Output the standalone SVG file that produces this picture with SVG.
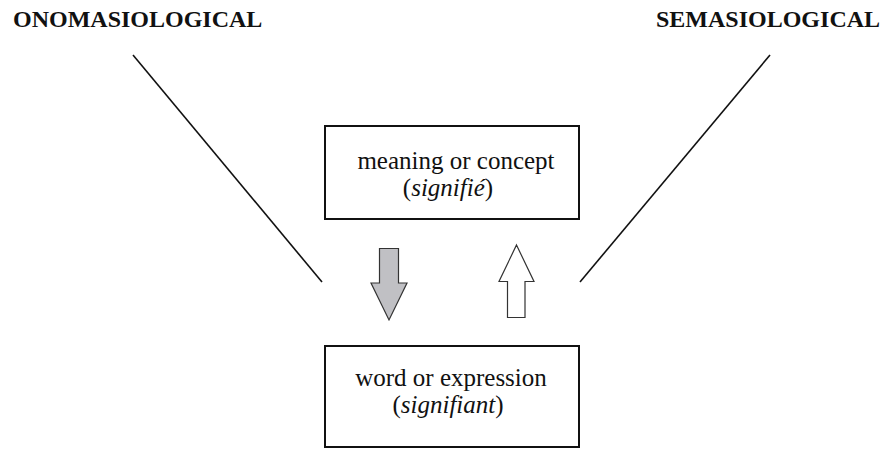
<svg xmlns="http://www.w3.org/2000/svg" width="884" height="449" viewBox="0 0 884 449">
<style>
.box{fill:#fff;stroke:#111;stroke-width:2}
.ln{stroke:#111;stroke-width:1.6;fill:none}
.arr{stroke:#333;stroke-width:1.2;stroke-linejoin:miter}
</style>
<rect width="884" height="449" fill="#fff"/>
<g id="onomasiological">
<text x="13" y="27" font-family="Liberation Serif" font-weight="bold" font-size="24" fill="#111">ONOMASIOLOGICAL</text>
</g>
<g id="semasiological">
<text x="656" y="27" font-family="Liberation Serif" font-weight="bold" font-size="24" fill="#111">SEMASIOLOGICAL</text>
</g>
<g id="connectors">
<line class="ln" x1="133" y1="55" x2="322" y2="282"/>
<line class="ln" x1="770" y1="55" x2="580" y2="282"/>
<polygon id="down-arrow" class="arr" fill="#c0c0c4" points="379.5,248.5 398.5,248.5 398.5,283 407,283 389,320 371,283 379.5,283"/>
<polygon id="up-arrow" class="arr" fill="#fff" points="516.5,245 534,281.5 525,281.5 525,317.5 507.5,317.5 507.5,281.5 499,281.5"/>
</g>
<g id="meaning">
<rect class="box" x="325" y="126" width="254" height="93"/>
<text x="456" y="169" font-family="Liberation Serif" font-size="25" fill="#111" text-anchor="middle">meaning or concept</text>
<text x="448" y="196" font-family="Liberation Serif" font-size="25" fill="#111" text-anchor="middle">(<tspan font-style="italic">signifié</tspan>)</text>
</g>
<g id="word">
<rect class="box" x="325" y="346" width="254" height="101"/>
<text x="451" y="386" font-family="Liberation Serif" font-size="25" fill="#111" text-anchor="middle">word or expression</text>
<text x="448" y="413" font-family="Liberation Serif" font-size="25" fill="#111" text-anchor="middle">(<tspan font-style="italic">signifiant</tspan>)</text>
</g>
</svg>
